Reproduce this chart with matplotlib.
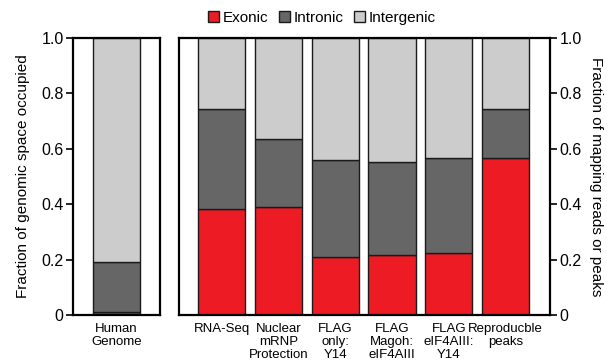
import matplotlib
matplotlib.use("Agg")
import matplotlib.pyplot as plt
from matplotlib.patches import Patch

plt.rcParams['font.family'] = ['Liberation Sans', 'DejaVu Sans']

# data
genome_label = ['Human\nGenome']
genome_exonic = [0.01]
genome_intronic = [0.18]
genome_intergenic = [0.81]

samples = ['RNA-Seq', 'Nuclear\nmRNP\nProtection', 'FLAG\nonly:\nY14',
           'FLAG\nMagoh:\neIF4AIII', 'FLAG\neIF4AIII:\nY14', 'Reproducble\npeaks']
exonic = [0.382, 0.389, 0.209, 0.216, 0.224, 0.565]
intronic = [0.360, 0.246, 0.350, 0.336, 0.342, 0.177]
intergenic = [0.258, 0.365, 0.441, 0.448, 0.434, 0.258]

c_ex = '#ED1C24'
c_in = '#666666'
c_ig = '#CCCCCC'
edge = '#1a1a1a'
w = 0.83

fig = plt.figure(figsize=(6.07, 3.64), dpi=100)
ax1 = fig.add_axes([0.121, 0.1346, 0.142, 0.7618])
ax2 = fig.add_axes([0.295, 0.1346, 0.611, 0.7618])


def stack(ax, labels, a, b, c):
    x = range(len(labels))
    ax.bar(x, a, w, color=c_ex, edgecolor=edge, linewidth=1)
    ax.bar(x, b, w, bottom=a, color=c_in, edgecolor=edge, linewidth=1)
    bot = [p + q for p, q in zip(a, b)]
    ax.bar(x, c, w, bottom=bot, color=c_ig, edgecolor=edge, linewidth=1)
    ax.set_xticks(list(x))
    ax.set_xticklabels(labels, fontsize=9.5, linespacing=1.12)
    ax.tick_params(axis='x', length=0, pad=6)
    ax.set_ylim(0, 1.0)
    ax.set_yticks([0, 0.2, 0.4, 0.6, 0.8, 1.0])
    ax.set_yticklabels(['0', '0.2', '0.4', '0.6', '0.8', '1.0'], fontsize=11.5)
    ax.tick_params(axis='y', length=5, width=1.2, direction='out', pad=2)
    for s in ax.spines.values():
        s.set_linewidth(1.6)


stack(ax1, genome_label, genome_exonic, genome_intronic, genome_intergenic)
ax1.set_xlim(-0.75, 0.76)
ax1.set_ylabel('Fraction of genomic space occupied', fontsize=11, labelpad=8)

stack(ax2, samples, exonic, intronic, intergenic)
ax2.set_xlim(-0.75, 5.78)
ax2.yaxis.tick_right()
ax2.yaxis.set_label_position('right')
ax2.set_ylabel('Fraction of mapping reads or peaks', fontsize=11,
               rotation=270, labelpad=15)

handles = [Patch(facecolor=c_ex, edgecolor=edge, label='Exonic'),
           Patch(facecolor=c_in, edgecolor=edge, label='Intronic'),
           Patch(facecolor=c_ig, edgecolor=edge, label='Intergenic')]
fig.legend(handles=handles, loc='center', bbox_to_anchor=(0.53, 0.95),
           ncol=3, frameon=False, fontsize=11, handlelength=0.75,
           handleheight=0.75, handletextpad=0.2, columnspacing=0.7)

fig.savefig('out.png', dpi=100)
